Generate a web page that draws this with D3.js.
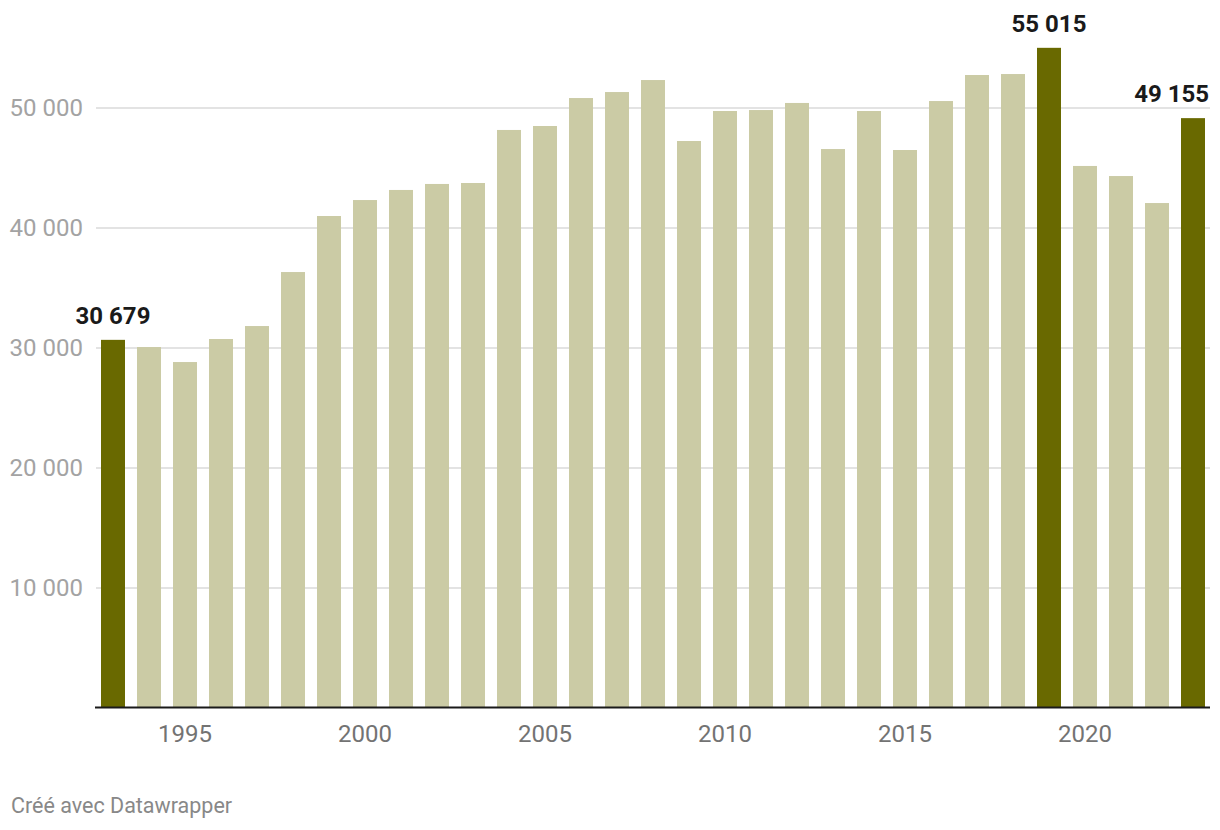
<!DOCTYPE html>
<html>
<head>
<meta charset="utf-8">
<script src="https://cdn.jsdelivr.net/npm/d3@7"></script>
<style>
  html, body { margin: 0; padding: 0; background: #fff; }
  svg { display: block; font-family: Roboto, "Noto Sans", sans-serif; }
</style>
</head>
<body>
<svg id="chart" width="1220" height="830"></svg>
<script>
const years = [1993,1994,1995,1996,1997,1998,1999,2000,2001,2002,2003,2004,2005,2006,2007,2008,2009,2010,2011,2012,2013,2014,2015,2016,2017,2018,2019,2020,2021,2022,2023];
const values = [30679,30080,28830,30750,31830,36330,41000,42330,43170,43670,43750,48170,48500,50830,51330,52330,47250,49750,49830,50420,46580,49750,46500,50580,52750,52830,55015,45170,44330,42080,49155];
const highlighted = [1993, 2019, 2023];
const yTicks = [10000, 20000, 30000, 40000, 50000];
const xTicks = [1995, 2000, 2005, 2010, 2015, 2020];
const footer = "Créé avec Datawrapper";

const svg = d3.select("#chart");
const fmt = v => d3.format(",")(v).replace(/,/g, " ");

const x = d3.scaleBand().domain(years).range([95, 1211]).paddingInner(1/3).paddingOuter(1/6);
const y = d3.scaleLinear().domain([0, 50000]).range([708, 108]);

// gridlines
svg.append("g").selectAll("line").data(yTicks).join("line")
  .attr("x1", 96).attr("x2", 1210)
  .attr("y1", d => y(d)).attr("y2", d => y(d))
  .attr("stroke", "#e3e3e3").attr("stroke-width", 2);

// y labels
svg.append("g").selectAll("text").data(yTicks).join("text")
  .attr("x", 83).attr("y", d => y(d)).attr("dy", "0.35em")
  .attr("text-anchor", "end")
  .attr("fill", "#a3a3a3").attr("font-size", 24)
  .text(d => fmt(d));

// bars
svg.append("g").selectAll("rect").data(years).join("rect")
  .attr("x", d => x(d)).attr("width", x.bandwidth())
  .attr("y", (d, i) => y(values[i]))
  .attr("height", (d, i) => y(0) - y(values[i]))
  .attr("fill", d => highlighted.includes(d) ? "#696900" : "#cbcba5");

// axis baseline
svg.append("line").attr("x1", 95).attr("x2", 1210)
  .attr("y1", 707.5).attr("y2", 707.5)
  .attr("stroke", "#1a1a1a").attr("stroke-width", 2);

// x labels
svg.append("g").selectAll("text").data(xTicks).join("text")
  .attr("x", d => x(d) + x.bandwidth() / 2).attr("y", 742)
  .attr("text-anchor", "middle")
  .attr("fill", "#737373").attr("font-size", 24)
  .text(d => d);

// value labels
svg.append("g").selectAll("text").data(highlighted).join("text")
  .attr("x", (d, i) => i === highlighted.length - 1 ? 1209 : x(d) + x.bandwidth() / 2)
  .attr("y", d => y(values[years.indexOf(d)]) - 16)
  .attr("text-anchor", (d, i) => i === highlighted.length - 1 ? "end" : "middle")
  .attr("fill", "#1a1a1a").attr("font-size", 24).attr("font-weight", 700)
  .text(d => fmt(values[years.indexOf(d)]));

// footer
svg.append("text").attr("x", 11).attr("y", 813)
  .attr("fill", "#888").attr("font-size", 21.5)
  .text(footer);
</script>
</body>
</html>
